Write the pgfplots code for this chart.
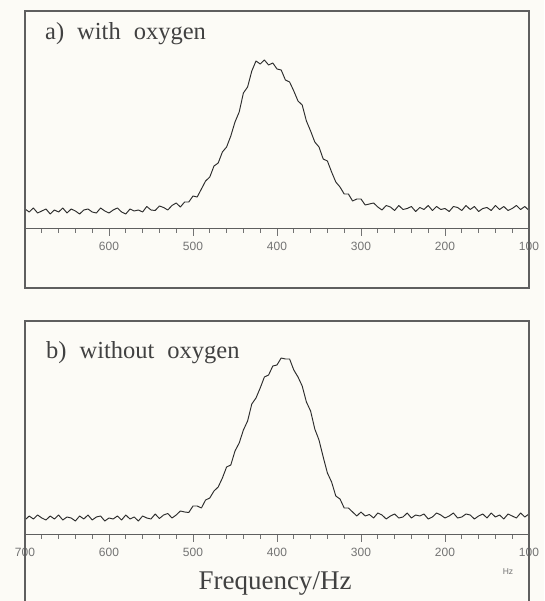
\documentclass[border=0pt]{standalone}
\usepackage{fontspec}
\setmainfont{Liberation Serif}
\setsansfont{Liberation Sans}
\usepackage{pgfplots}
\usepackage{pgfplotstable}
\pgfplotsset{compat=1.18}
\definecolor{bg}{RGB}{252,251,246}
\definecolor{ink}{RGB}{45,45,45}
\definecolor{txt}{RGB}{65,65,65}
\definecolor{framec}{RGB}{95,95,95}
\definecolor{tickc}{RGB}{115,115,115}

% panel a: with oxygen (height above the axis line, arbitrary units)
\pgfplotstableread{
hz y
700 20
695 17
690 21
685 16
680 18
675 20
670 15
665 19
660 17
655 21
650 16
645 20
640 18
635 15
630 19
625 20
620 17
615 16
610 21
605 18
600 16
595 19
590 21
585 17
580 15
575 20
570 18
565 19
560 17
555 22.5
550 19
545 18.5
540 23
535 21.5
530 19
525 23.5
520 26
515 22
510 27
505 27
500 33
495 32
490 40
485 48
480 52
475 63
470 66
465 77
460 82
455 93
450 107
445 117
440 136
435 142
430 158
425 168
420 165
415 169
410 164
405 166
400 160
395 159
390 149
385 147
380 138
375 128
370 124
365 108
360 98
355 87
350 82
345 70
340 68
335 57
330 47
325 42
320 35
315 35
310 28
305 30
300 30
295 24
290 25
285 26
280 22
275 19
270 23.5
265 22
260 18.5
255 23.5
250 19.5
245 20.5
240 22.5
235 17.5
230 21.5
225 19.5
220 23.5
215 18.5
210 22.5
205 19.5
200 20.5
195 17.5
190 22.5
185 21.5
180 18.5
175 23.5
170 19.5
165 22.5
160 17.5
155 20.5
150 21.5
145 18.5
140 23.5
135 19.5
130 22.5
125 18.5
120 20.5
115 23.5
110 19.5
105 22.5
100 18.5
}\specA

% panel b: without oxygen
\pgfplotstableread{
hz y
700 15
695 19
690 16
685 20
680 17
675 15
670 19
665 16
660 20
655 15
650 18
645 17
640 14
635 19
630 16
625 20
620 15
615 18
610 19
605 14
600 17
595 16
590 19
585 15
580 20
575 16
570 18
565 14
560 19
555 17
550 16
545 21
540 16.5
535 20
530 21.5
525 17
520 20
515 24
510 23
505 22.5
500 29
495 29
490 27
485 35
480 37
475 44
470 48
465 57
460 68
455 70
450 84
445 92
440 105
435 114
430 131
425 137
420 147
415 158
410 160
405 169
400 170
395 177
390 176
385 176
380 165
375 158
370 149
365 133
360 124
355 106
350 95
345 78
340 62
335 53
330 39
325 36
320 27
315 27
310 23
305 19
300 23
295 19
290 20.5
285 17
280 22
275 20
270 16
265 19
260 21
255 17
250 18
245 22
240 17
235 20
230 19
225 21
220 16
215 18
210 22
205 20
200 17
195 19
190 22
185 17
180 18
175 21
170 20
165 16
160 19
155 21
150 17
145 22
140 18
135 20
130 16
125 21
120 19
115 17
110 22
105 18
100 21
}\specB

\pgfplotsset{
  spec/.style={
    scale only axis, width=504pt,
    xmin=100, xmax=700, x dir=reverse,
    axis x line=middle, axis y line=none,
    x axis line style={-, draw=framec, line width=1pt},
    xtick={100,200,...,700},
    minor xtick={120,140,...,680},
    xtick align=outside,
    major tick length=7pt, minor tick length=4pt,
    every tick/.style={draw=tickc, line width=0.9pt},
    xticklabel style={font=\sffamily\fontsize{12}{12}\selectfont, text=tickc, yshift=-3pt},
    clip=false,
  },
  curve/.style={ink, line width=0.95pt, line join=round, mark=none},
}

\begin{document}
\begin{tikzpicture}[x=1pt,y=1pt]
\fill[bg] (0,0) rectangle (544,601);
\useasboundingbox (0,0) rectangle (544,601);

\begin{axis}[spec,
  at={(25pt,313pt)}, anchor=south west, height=277pt,
  ymin=-59, ymax=218,
  xticklabels={100,200,300,400,500,600,{}},
]
\addplot[curve] table[x=hz,y=y] {\specA};
\draw[framec, line width=1.1pt] (rel axis cs:0,0) rectangle (rel axis cs:1,1);
\end{axis}

\begin{axis}[spec,
  at={(25pt,-14pt)}, anchor=south west, height=294pt,
  ymin=-80, ymax=214,
  xticklabels={100,200,300,400,500,600,700},
]
\addplot[curve] table[x=hz,y=y] {\specB};
\draw[framec, line width=1.1pt] (rel axis cs:0,0) rectangle (rel axis cs:1,1);
\end{axis}

\node[anchor=base west, inner sep=0pt, text=txt, font=\fontsize{24.5}{24.5}\selectfont] at (45,561) {a)\hspace{13pt}with\hspace{13pt}oxygen};
\node[anchor=base west, inner sep=0pt, text=txt, font=\fontsize{24.5}{24.5}\selectfont] at (46,242) {b)\hspace{13pt}without\hspace{13pt}oxygen};
\node[anchor=base, inner sep=0pt, text=txt, font=\fontsize{27}{27}\selectfont] at (275,12) {Frequency/Hz};
\node[inner sep=0pt, text=tickc, font=\sffamily\fontsize{8.5}{8.5}\selectfont] at (508,29) {Hz};
\end{tikzpicture}
\end{document}
